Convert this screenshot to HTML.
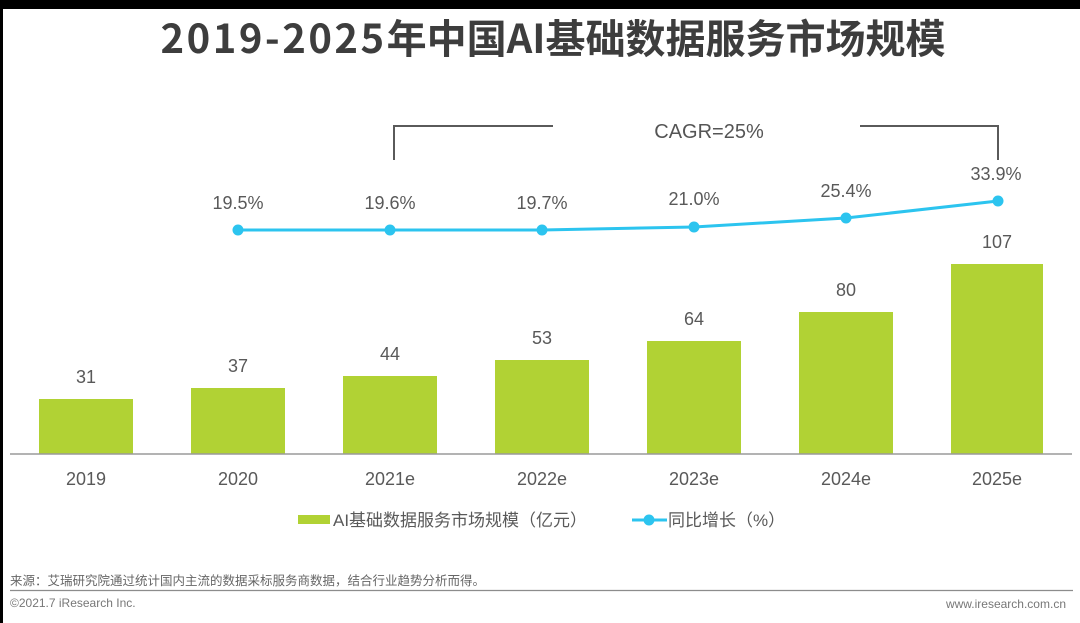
<!DOCTYPE html>
<html><head><meta charset="utf-8">
<style>
html,body{margin:0;padding:0;background:#fff;}
body{width:1080px;height:623px;position:relative;overflow:hidden;}
svg{position:absolute;left:0;top:0;}
</style></head>
<body>
<svg width="1080" height="623" viewBox="0 0 1080 623" xmlns="http://www.w3.org/2000/svg">
<rect x="0" y="0" width="1080" height="623" fill="#fff"/>
<rect x="0" y="0" width="1080" height="9" fill="#000"/>
<rect x="0" y="0" width="3" height="623" fill="#000"/>

<!-- Title -->
<text x="553" y="53" text-anchor="middle" font-family="'Noto Sans CJK SC','Liberation Sans',sans-serif" font-weight="700" font-size="40" fill="#3d3d3d"><tspan letter-spacing="2.5">2019-2025</tspan>年中国AI基础数据服务市场规模</text>

<!-- bracket / CAGR -->
<g stroke="#5a5a5a" stroke-width="2" fill="none">
<polyline points="394,160 394,126 553,126"/>
<polyline points="860,126 998,126 998,160"/>
</g>
<text x="709" y="138" text-anchor="middle" font-family="'Liberation Sans',sans-serif" font-size="20" fill="#555">CAGR=25%</text>

<!-- bars -->
<g fill="#b1d234">
<rect x="39" y="399" width="94" height="55"/>
<rect x="191" y="388" width="94" height="66"/>
<rect x="343" y="376" width="94" height="78"/>
<rect x="495" y="360" width="94" height="94"/>
<rect x="647" y="341" width="94" height="113"/>
<rect x="799" y="312" width="94" height="142"/>
<rect x="951" y="264" width="92" height="190"/>
</g>
<line x1="10" y1="454" x2="1072" y2="454" stroke="#9a9a9a" stroke-width="1.5"/>

<!-- bar values -->
<g font-family="'Liberation Sans',sans-serif" font-size="18" fill="#595959" text-anchor="middle">
<text x="86" y="383">31</text>
<text x="238" y="372">37</text>
<text x="390" y="360">44</text>
<text x="542" y="344">53</text>
<text x="694" y="325">64</text>
<text x="846" y="296">80</text>
<text x="997" y="248">107</text>
</g>

<!-- x labels -->
<g font-family="'Liberation Sans',sans-serif" font-size="18" fill="#595959" text-anchor="middle">
<text x="86" y="485">2019</text>
<text x="238" y="485">2020</text>
<text x="390" y="485">2021e</text>
<text x="542" y="485">2022e</text>
<text x="694" y="485">2023e</text>
<text x="846" y="485">2024e</text>
<text x="997" y="485">2025e</text>
</g>

<!-- line -->
<polyline points="238,230 390,230 542,230 694,227 846,218 998,201" fill="none" stroke="#2cc4ef" stroke-width="3"/>
<g fill="#2cc4ef">
<circle cx="238" cy="230" r="5.5"/>
<circle cx="390" cy="230" r="5.5"/>
<circle cx="542" cy="230" r="5.5"/>
<circle cx="694" cy="227" r="5.5"/>
<circle cx="846" cy="218" r="5.5"/>
<circle cx="998" cy="201" r="5.5"/>
</g>
<g font-family="'Liberation Sans',sans-serif" font-size="18" fill="#595959" text-anchor="middle">
<text x="238" y="209">19.5%</text>
<text x="390" y="209">19.6%</text>
<text x="542" y="209">19.7%</text>
<text x="694" y="205">21.0%</text>
<text x="846" y="197">25.4%</text>
<text x="996" y="180">33.9%</text>
</g>

<!-- legend -->
<rect x="298" y="515" width="32" height="9" fill="#b1d234"/>
<text x="333" y="526" font-family="'Liberation Sans','Noto Sans CJK SC',sans-serif" font-size="17" fill="#595959">AI基础数据服务市场规模（亿元）</text>
<line x1="632" y1="520" x2="667" y2="520" stroke="#2cc4ef" stroke-width="3"/>
<circle cx="649" cy="520" r="5.5" fill="#2cc4ef"/>
<text x="668" y="526" font-family="'Liberation Sans','Noto Sans CJK SC',sans-serif" font-size="17" fill="#595959">同比增长（%）</text>

<!-- footer -->
<text x="10" y="585" font-family="'Liberation Sans','Noto Sans CJK SC',sans-serif" font-size="12.5" fill="#666">来源：艾瑞研究院通过统计国内主流的数据采标服务商数据，结合行业趋势分析而得。</text>
<line x1="10" y1="590.5" x2="1073" y2="590.5" stroke="#8c8c8c" stroke-width="1.2"/>
<text x="10" y="607" font-family="'Liberation Sans',sans-serif" font-size="12" fill="#777">©2021.7 iResearch Inc.</text>
<text x="1066" y="608" text-anchor="end" font-family="'Liberation Sans',sans-serif" font-size="12" fill="#777">www.iresearch.com.cn</text>
</svg>
</body></html>
